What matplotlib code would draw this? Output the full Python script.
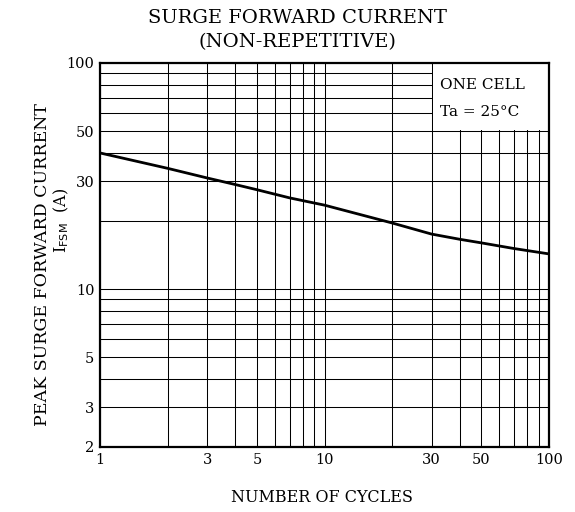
import numpy as np
import matplotlib
matplotlib.use("Agg")
import matplotlib.pyplot as plt
from matplotlib.ticker import FixedLocator, NullFormatter, NullLocator

# curve
cycles = [1, 2, 3, 4, 5, 7, 10, 20, 30, 40, 50, 70, 100]
current = [40, 34.2, 31, 29, 27.5, 25.3, 23.5, 19.6, 17.5, 16.6, 16, 15.1, 14.3]

xticks = [1, 3, 5, 10, 30, 50, 100]
yticks = [2, 3, 5, 10, 30, 50, 100]

plt.rcParams["font.family"] = "DejaVu Serif"

fig = plt.figure(figsize=(5.75, 5.12), dpi=100)
ax = fig.add_axes([100 / 575, 65 / 512, 449 / 575, 384 / 512])
ax.set_xscale("log")
ax.set_yscale("log")
ax.set_xlim(1, 100)
ax.set_ylim(2, 100)

# grid at every 1..9 step
xgrid = [m * 10 ** d for d in range(2) for m in range(1, 10)] + [100]
ygrid = [m * 10 ** d for d in range(0, 2) for m in range(1, 10) if m * 10 ** d >= 2] + [100]
for x in xgrid:
    ax.axvline(x, color="black", lw=0.75, zorder=1)
for y in ygrid:
    ax.axhline(y, color="black", lw=0.75, zorder=1)

# white box for the condition note (keeps the 30 and 50 lines as its edges)
ax.fill_between([30.4, 100], 50.6, 100, color="white", lw=0, zorder=2)
ax.text(0.757, 0.943, "ONE CELL", transform=ax.transAxes, fontsize=11,
        va="center", ha="left", zorder=3)
ax.text(0.757, 0.873, "Ta = 25\u00b0C", transform=ax.transAxes, fontsize=11,
        va="center", ha="left", zorder=3)

ax.plot(cycles, current, color="black", lw=2.0, zorder=4)

ax.xaxis.set_major_locator(FixedLocator(xticks))
ax.yaxis.set_major_locator(FixedLocator(yticks))
ax.xaxis.set_minor_locator(NullLocator())
ax.yaxis.set_minor_locator(NullLocator())
ax.xaxis.set_minor_formatter(NullFormatter())
ax.yaxis.set_minor_formatter(NullFormatter())
ax.set_xticklabels([str(t) for t in xticks])
ax.set_yticklabels([str(t) for t in yticks])
ax.tick_params(length=0, labelsize=10.5, pad=4)
for s in ax.spines.values():
    s.set_linewidth(1.6)
    s.set_zorder(5)

fig.text(0.518, 0.964, "SURGE FORWARD CURRENT", ha="center", va="center", fontsize=14)
fig.text(0.518, 0.918, "(NON-REPETITIVE)", ha="center", va="center", fontsize=14)
fig.text(0.56, 0.029, "NUMBER OF CYCLES", ha="center", va="center", fontsize=11.5)
fig.text(0.074, 0.483, "PEAK SURGE FORWARD CURRENT", ha="center", va="center",
         rotation=90, fontsize=12.5)
fig.text(0.106, 0.57, r"I$_{\rm FSM}$  (A)", ha="center", va="center",
         rotation=90, fontsize=11.5)

fig.savefig("out.png", dpi=100)
